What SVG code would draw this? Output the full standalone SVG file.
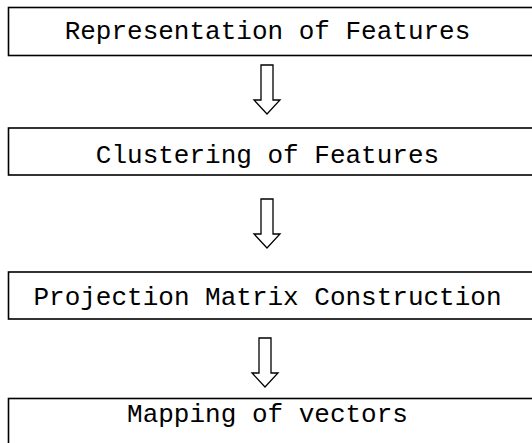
<svg xmlns="http://www.w3.org/2000/svg" width="532" height="443" viewBox="0 0 532 443">
<style>
.box{fill:#fff;stroke:#000;stroke-width:1.6}
.lbl{font-family:"Liberation Mono","Courier New",monospace;font-size:26px;fill:#000;text-anchor:middle}
.arr{fill:#fff;stroke:#000;stroke-width:1.3;stroke-linejoin:miter}
</style>
<rect width="532" height="443" fill="#fff"/>
<g id="n1"><rect class="box" x="8.5" y="7.5" width="540" height="48"/><text class="lbl" x="267.5" y="39">Representation of Features</text></g>
<g id="n2"><rect class="box" x="8.5" y="128" width="540" height="47"/><text class="lbl" x="267.5" y="163">Clustering of Features</text></g>
<g id="n3"><rect class="box" x="8.5" y="272" width="540" height="47"/><text class="lbl" x="267.5" y="305">Projection Matrix Construction</text></g>
<g id="n4"><rect class="box" x="8.5" y="398.5" width="540" height="60"/><text class="lbl" x="267.5" y="421.5">Mapping of vectors</text></g>
<g id="connectors">
<path class="arr" d="M261,65 H273 V100 H280 L267,114 L254,100 H261 Z"/>
<path class="arr" d="M261,199 H273 V234 H280 L267,248 L254,234 H261 Z"/>
<path class="arr" d="M259,338 H271 V373 H278 L265,387 L252,373 H259 Z"/>
</g>
</svg>
